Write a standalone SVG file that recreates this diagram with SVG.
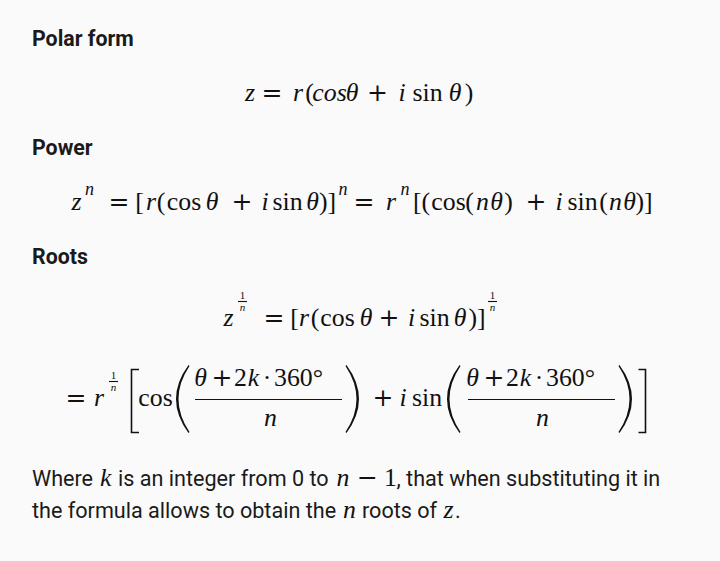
<svg xmlns="http://www.w3.org/2000/svg" width="720" height="561" viewBox="0 0 720 561">
<style>
.h{font-family:Roboto,"Liberation Sans",sans-serif;font-weight:bold;font-size:21.33px;fill:#1a1a1a}
.t{font-family:Roboto,"Liberation Sans",sans-serif;font-size:21.6px;fill:#1a1a1a}
.m{font-family:"Liberation Serif","Times New Roman",serif;font-size:25.8px;fill:#111;text-anchor:middle}
.tm{font-family:"Liberation Serif","Times New Roman",serif;font-size:25.8px;fill:#111}
.mi{font-style:italic}
.op{font-family:"DejaVu Serif",serif;font-size:25px}
.s{font-size:18px}
.ss{font-size:11px}
.rule{stroke:#111;stroke-width:1.1;fill:none}
.br{stroke:#111;stroke-width:1.6;fill:none}
.dl{fill:#111;stroke:none}
</style>
<rect width="720" height="561" fill="#fafafa"/>

<g id="heading-polar"><text class="h" x="32" y="46">Polar form</text></g>
<g id="formula-polar">
<text class="m" y="101"><tspan class="mi" x="250" y="101">z</tspan><tspan class="op" x="272" y="101">=</tspan><tspan class="mi" x="298" y="101">r</tspan><tspan x="309.5" y="101">(</tspan><tspan class="mi" x="329.5" y="101">cos</tspan><tspan class="mi" x="352" y="101">θ</tspan><tspan class="op" x="377.5" y="101">+</tspan><tspan class="mi" x="402" y="101">i</tspan><tspan x="427.5" y="101">sin</tspan><tspan class="mi" x="455" y="101">θ</tspan><tspan x="469" y="101">)</tspan></text>
</g>

<g id="heading-power"><text class="h" x="32" y="155">Power</text></g>
<g id="formula-power">
<text class="m" y="210"><tspan class="mi" x="76.5" y="210">z</tspan><tspan class="mi s" x="89.5" y="195">n</tspan><tspan class="op" x="119" y="210">=</tspan><tspan x="139.5" y="210">[</tspan><tspan class="mi" x="151" y="210">r</tspan><tspan x="161" y="210">(</tspan><tspan x="184" y="210">cos</tspan><tspan class="mi" x="212" y="210">θ</tspan><tspan class="op" x="242" y="210">+</tspan><tspan class="mi" x="265" y="210">i</tspan><tspan x="287.5" y="210">sin</tspan><tspan class="mi" x="312.5" y="210">θ</tspan><tspan x="327.5" y="210">)]</tspan><tspan class="mi s" x="343" y="195">n</tspan><tspan class="op" x="364" y="210">=</tspan><tspan class="mi" x="391" y="210">r</tspan><tspan class="mi s" x="405" y="195">n</tspan><tspan x="421.5" y="210">[(</tspan><tspan x="448.5" y="210">cos</tspan><tspan x="469.5" y="210">(</tspan><tspan class="mi" x="482.5" y="210">n</tspan><tspan class="mi" x="496.5" y="210">θ</tspan><tspan x="508.5" y="210">)</tspan><tspan class="op" x="536" y="210">+</tspan><tspan class="mi" x="559" y="210">i</tspan><tspan x="582.5" y="210">sin</tspan><tspan x="603.5" y="210">(</tspan><tspan class="mi" x="615.5" y="210">n</tspan><tspan class="mi" x="629.5" y="210">θ</tspan><tspan x="644" y="210">)]</tspan></text>
</g>

<g id="heading-roots"><text class="h" x="32" y="264">Roots</text></g>
<g id="formula-roots-1">
<text class="m" y="326"><tspan class="mi" x="228.5" y="326">z</tspan><tspan class="ss" x="242.5" y="298.5">1</tspan><tspan class="mi ss" x="242.5" y="310.5">n</tspan><tspan class="op" x="274" y="326">=</tspan><tspan x="294.5" y="326">[</tspan><tspan class="mi" x="304" y="326">r</tspan><tspan x="315" y="326">(</tspan><tspan x="337.5" y="326">cos</tspan><tspan class="mi" x="366" y="326">θ</tspan><tspan class="op" x="389" y="326">+</tspan><tspan class="mi" x="411.5" y="326">i</tspan><tspan x="434.5" y="326">sin</tspan><tspan class="mi" x="460" y="326">θ</tspan><tspan x="477" y="326">)]</tspan><tspan class="ss" x="492.5" y="298.5">1</tspan><tspan class="mi ss" x="492.5" y="310.5">n</tspan></text>
<line class="rule" x1="238" y1="301.5" x2="247" y2="301.5"/>
<line class="rule" x1="488" y1="301.5" x2="497" y2="301.5"/>
</g>

<g id="formula-roots-2">
<text class="m" y="406"><tspan class="op" x="76" y="406">=</tspan><tspan class="mi" x="99" y="406">r</tspan><tspan class="ss" x="113.5" y="378.5">1</tspan><tspan class="mi ss" x="113.5" y="390.5">n</tspan><tspan x="155.5" y="406">cos</tspan><tspan class="mi" x="200.5" y="386">θ</tspan><tspan class="op" x="222" y="386">+</tspan><tspan x="240.5" y="386">2</tspan><tspan class="mi" x="253.5" y="386">k</tspan><tspan x="267" y="386">·</tspan><tspan x="298.5" y="386">360°</tspan><tspan class="mi" x="270.5" y="426">n</tspan><tspan class="op" x="383" y="406">+</tspan><tspan class="mi" x="403" y="406">i</tspan><tspan x="427" y="406">sin</tspan><tspan class="mi" x="472.5" y="386">θ</tspan><tspan class="op" x="494" y="386">+</tspan><tspan x="512.5" y="386">2</tspan><tspan class="mi" x="525.5" y="386">k</tspan><tspan x="539" y="386">·</tspan><tspan x="570.5" y="386">360°</tspan><tspan class="mi" x="542.5" y="426">n</tspan></text>
<line class="rule" x1="109" y1="381.5" x2="118" y2="381.5"/>
<path class="br" d="M139,369.5 H131.5 V432.5 H139"/>
<path class="dl" d="M188.5,365 Q163.5,399 188.5,433 L189.5,432 Q167.5,399 189.5,366 Z"/>
<line class="rule" x1="195" y1="399.5" x2="342" y2="399.5"/>
<path class="dl" d="M346.5,365 Q371.5,399 346.5,433 L345.5,432 Q367.5,399 345.5,366 Z"/>
<path class="dl" d="M459.5,365 Q434.5,399 459.5,433 L460.5,432 Q438.5,399 460.5,366 Z"/>
<line class="rule" x1="468" y1="399.5" x2="615" y2="399.5"/>
<path class="dl" d="M619.5,365 Q644.5,399 619.5,433 L618.5,432 Q640.5,399 618.5,366 Z"/>
<path class="br" d="M638.5,369.5 H645.5 V432.5 H638.5"/>
</g>

<g id="note">
<text class="t" y="486"><tspan x="32" y="486">Where</tspan><tspan class="tm mi" x="100" y="486">k</tspan><tspan x="118" y="486">is an integer from 0 to</tspan><tspan class="tm mi" x="336.5" y="486">n</tspan><tspan class="tm op" x="357" y="486">−</tspan><tspan class="tm" x="384" y="486">1</tspan><tspan x="396.5" y="486">, that when substituting it in</tspan></text>
<text class="t" y="518"><tspan x="32" y="518">the formula allows to obtain the</tspan><tspan class="tm mi" x="343" y="518">n</tspan><tspan x="362" y="518">roots of</tspan><tspan class="tm mi" x="443.5" y="518">z</tspan><tspan x="455" y="518">.</tspan></text>
</g>
</svg>
